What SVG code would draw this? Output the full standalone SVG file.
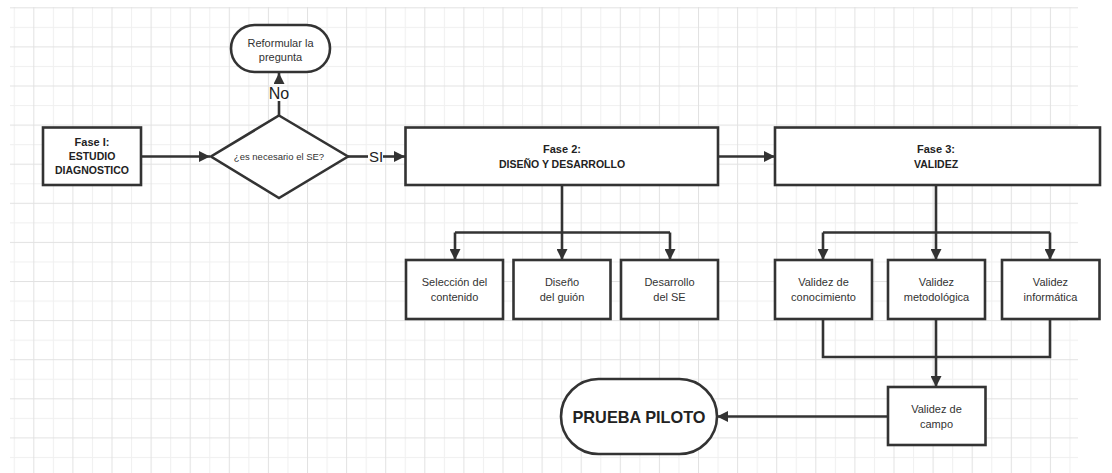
<svg xmlns="http://www.w3.org/2000/svg" width="1112" height="473" viewBox="0 0 1112 473">
<defs>
<pattern id="grid" patternUnits="userSpaceOnUse" x="33.3" y="7.3" width="39.1" height="39.1">
<rect x="0" y="0" width="39.1" height="39.1" fill="#ffffff"/>
<rect x="19.55" y="0" width="1" height="39.1" fill="#f0f0f0"/>
<rect x="0" y="19.55" width="39.1" height="1" fill="#f0f0f0"/>
<rect x="0" y="0" width="1" height="39.1" fill="#e2e2e2"/>
<rect x="0" y="0" width="39.1" height="1" fill="#e2e2e2"/>
</pattern>
<marker id="arr" markerUnits="userSpaceOnUse" markerWidth="11" markerHeight="11" refX="11" refY="5.5" orient="auto">
<path d="M0,0 L11,5.5 L0,11 z" fill="#333333"/>
</marker>
<style>
.box{fill:#ffffff;stroke:#333333;stroke-width:2.6}
.ln{fill:none;stroke:#333333;stroke-width:2.6}
.arw{fill:none;stroke:#333333;stroke-width:2.6;marker-end:url(#arr)}
.t{font-family:"Liberation Sans",Arial,sans-serif;font-size:11px;fill:#333333;text-anchor:middle}
.b{font-family:"Liberation Sans",Arial,sans-serif;font-size:10.5px;font-weight:bold;fill:#222222;text-anchor:middle}
.lbl{font-family:"Liberation Sans",Arial,sans-serif;font-size:16px;fill:#222222;text-anchor:middle}
</style>
</defs>
<rect x="0" y="0" width="1112" height="473" fill="#ffffff"/>
<rect x="10" y="7" width="1068" height="466" fill="url(#grid)"/>

<g id="connectors">
<path class="arw" d="M141,156.5 H210"/>
<path class="ln" d="M279,115 V101"/>
<path class="arw" d="M279,84 V73"/>
<path class="ln" d="M348,156.5 H368"/>
<path class="arw" d="M383,156.5 H405"/>
<path class="arw" d="M562,185 V260"/>
<path class="ln" d="M455,232.5 H670"/>
<path class="arw" d="M455,232.5 V260"/>
<path class="arw" d="M670,232.5 V260"/>
<path class="arw" d="M718,156.5 H775"/>
<path class="arw" d="M936,185 V260"/>
<path class="ln" d="M823,232.5 H1050"/>
<path class="arw" d="M823,232.5 V260"/>
<path class="arw" d="M1050,232.5 V260"/>
<path class="ln" d="M823,319 V357 H1050 V319"/>
<path class="arw" d="M936,319 V387"/>
<path class="arw" d="M888,416.5 H717"/>
<text class="lbl" x="279" y="99">No</text>
<text class="lbl" x="376" y="162" style="font-size:15px">SI</text>
</g>

<g id="fase1">
<rect class="box" x="43" y="127.5" width="98" height="57.5"/>
<text class="b" x="92" y="145.5" style="font-size:11px">Fase I:</text>
<text class="b" x="92" y="159.5">ESTUDIO</text>
<text class="b" x="92" y="174">DIAGNOSTICO</text>
</g>

<g id="decision">
<polygon class="box" points="279,115.5 348,156.5 279,198 211,156.5"/>
<text class="t" x="279" y="160" style="font-size:9.5px">¿es necesario el SE?</text>
</g>

<g id="reformular">
<rect class="box" x="231" y="25" width="99" height="47" rx="23.5" ry="23.5"/>
<text class="t" x="280.5" y="46.5">Reformular la</text>
<text class="t" x="280.5" y="60.5">pregunta</text>
</g>

<g id="fase2">
<rect class="box" x="405.5" y="127.5" width="312.5" height="57.5"/>
<text class="b" x="562" y="153" style="font-size:11px">Fase 2:</text>
<text class="b" x="562" y="168">DISEÑO Y DESARROLLO</text>
</g>

<g id="seleccion">
<rect class="box" x="406" y="260" width="97" height="59"/>
<text class="t" x="454.5" y="286">Selección del</text>
<text class="t" x="454.5" y="301">contenido</text>
</g>

<g id="diseno">
<rect class="box" x="513.5" y="260" width="97" height="59"/>
<text class="t" x="562" y="286">Diseño</text>
<text class="t" x="562" y="301">del guión</text>
</g>

<g id="desarrollo">
<rect class="box" x="621" y="260" width="97" height="59"/>
<text class="t" x="669.5" y="286">Desarrollo</text>
<text class="t" x="669.5" y="301">del SE</text>
</g>

<g id="fase3">
<rect class="box" x="775" y="127.5" width="325" height="57.5"/>
<text class="b" x="936" y="153" style="font-size:11px">Fase 3:</text>
<text class="b" x="936" y="168">VALIDEZ</text>
</g>

<g id="conocimiento">
<rect class="box" x="775" y="260" width="97" height="59"/>
<text class="t" x="823.5" y="286">Validez de</text>
<text class="t" x="823.5" y="301">conocimiento</text>
</g>

<g id="metodologica">
<rect class="box" x="888" y="260" width="97" height="59"/>
<text class="t" x="936.5" y="286">Validez</text>
<text class="t" x="936.5" y="301">metodológica</text>
</g>

<g id="informatica">
<rect class="box" x="1002" y="260" width="97.5" height="59"/>
<text class="t" x="1050.5" y="286">Validez</text>
<text class="t" x="1050.5" y="301">informática</text>
</g>

<g id="campo">
<rect class="box" x="888" y="387" width="97.5" height="58"/>
<text class="t" x="936.5" y="413">Validez de</text>
<text class="t" x="936.5" y="428">campo</text>
</g>

<g id="piloto">
<rect class="box" x="561" y="379" width="156" height="75" rx="37.5" ry="37.5"/>
<text class="b" x="639" y="422.5" style="font-size:16.3px">PRUEBA PILOTO</text>
</g>
</svg>
